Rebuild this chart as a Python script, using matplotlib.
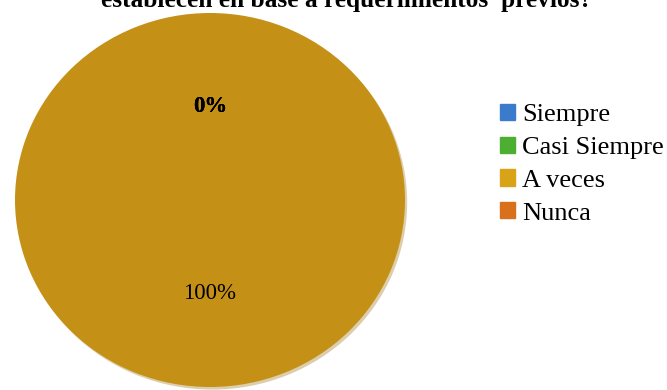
import matplotlib.pyplot as plt
from matplotlib.patches import Rectangle
import matplotlib
matplotlib.rcParams['font.family'] = ['Liberation Serif', 'DejaVu Serif']

categories = ['Siempre', 'Casi Siempre', 'A veces', 'Nunca']
values = [0, 0, 100, 0]
legend_colors = ['#3A7CCB', '#4DAF32', '#D9A317', '#D9701C']
pie_colors = ['#3A7CCB', '#4DAF32', '#C49116', '#D9701C']
title = 'establecen en base a requerimientos  previos?'

fig = plt.figure(figsize=(6.67, 3.9), dpi=100)

# title is clipped at the top edge, like in the original
fig.text(347 / 667, 1 - 6.5 / 390, title, ha='center', va='baseline',
         fontsize=18.3, fontweight='bold')

ax = fig.add_axes([15 / 667, 3 / 390, 390 / 667, 374 / 390])
wedges, texts, autotexts = ax.pie(values, colors=pie_colors, startangle=90,
                                  counterclock=False, autopct='%1.0f%%',
                                  pctdistance=0.5,
                                  shadow={'ox': 0.008, 'oy': -0.01, 'shade': 0.2,
                                          'alpha': 0.35},
                                  wedgeprops={'linewidth': 0},
                                  textprops={'fontsize': 16.5, 'color': 'black'})
for t in autotexts:
    if t.get_text() == '0%':
        t.set_fontweight('bold')
ax.set_aspect('auto')
ax.set_xlim(-1, 1)
ax.set_ylim(-1, 1)

handles = [Rectangle((0, 0), 1, 1, color=c) for c in legend_colors]
fig.legend(handles, categories, loc='upper left',
           bbox_to_anchor=(500 / 667, 1 - 104 / 390), frameon=False,
           fontsize=19, handlelength=0.57, handleheight=0.57,
           handletextpad=0.27, labelspacing=0.39, borderpad=0,
           borderaxespad=0)

plt.savefig('out.png', dpi=100)
